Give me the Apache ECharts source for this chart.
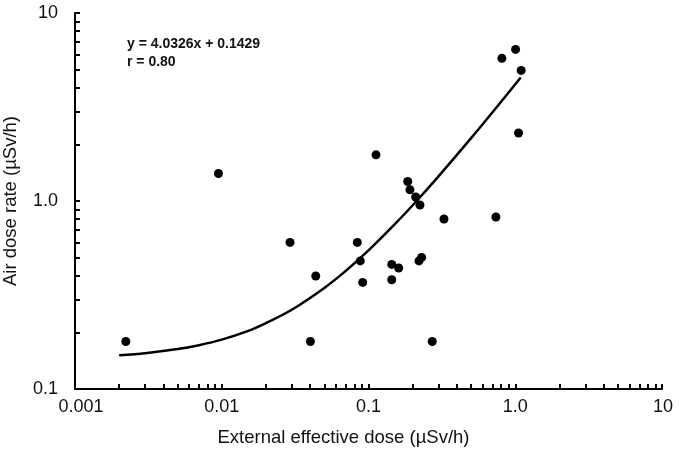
<!DOCTYPE html>
<html>
<head>
<meta charset="utf-8">
<script src="https://cdn.jsdelivr.net/npm/echarts@6/dist/echarts.min.js"></script>
<style>html,body{margin:0;padding:0;background:#fff}#c{width:679px;height:454px}</style>
</head>
<body>
<div id="c"></div>
<script>
// Measured points: external effective dose (x) vs air dose rate (y), µSv/h
const doseX = [0.00222, 0.0095, 0.0292, 0.0437, 0.0402, 0.0839, 0.0879, 0.0913, 0.1125, 0.144, 0.144, 0.1606, 0.185, 0.1916, 0.2096, 0.2242, 0.2207, 0.2301, 0.2718, 0.3268, 0.738, 0.811, 1.005, 1.053, 1.097];
const doseY = [0.179, 1.40, 0.602, 0.399, 0.179, 0.602, 0.480, 0.369, 1.76, 0.460, 0.381, 0.440, 1.27, 1.148, 1.05, 0.952, 0.480, 0.501, 0.179, 0.802, 0.822, 5.74, 6.40, 2.30, 4.95];
// Regression curve
const fitX = [0.002, 0.003, 0.005, 0.007, 0.01, 0.015, 0.02, 0.03, 0.05, 0.07, 0.1, 0.15, 0.2, 0.3, 0.5, 0.7, 1.09];
const fitY = [0.151, 0.155, 0.163, 0.171, 0.183, 0.203, 0.224, 0.264, 0.345, 0.425, 0.546, 0.748, 0.949, 1.353, 2.159, 2.966, 4.538];
const xTickLabels = ['0.001', '0.01', '0.1', '1.0', '10'];
const yTickLabels = ['0.1', '1.0', '10'];
const eqText = 'y = 4.0326x + 0.1429';
const rText = 'r = 0.80';

function logTicks(a, b) {
  const out = [];
  for (let e = a; e < b; e++) {
    for (let m = 1; m < 10; m++) out.push(m * Math.pow(10, e));
  }
  out.push(Math.pow(10, b));
  return out;
}

const chart = echarts.init(document.getElementById('c'), null, {renderer: 'canvas'});
const font = 'Liberation Sans, Arial, sans-serif';
chart.setOption({
  animation: false,
  backgroundColor: '#fff',
  title: {
    text: eqText + '\n' + rText,
    left: 127, top: 35, padding: 0,
    textStyle: {fontFamily: font, fontSize: 14, fontWeight: 'bold', color: '#111', lineHeight: 18}
  },
  grid: {left: 75, right: 17, top: 13, bottom: 65, containLabel: false, outerBoundsMode: 'none'},
  xAxis: {
    type: 'log', logBase: 10, min: 0.001, max: 10,
    name: 'External effective dose (µSv/h)',
    nameLocation: 'middle', nameGap: 39,
    nameTextStyle: {fontFamily: font, fontSize: 18.5, color: '#111', padding: [0, 50, 0, 0]},
    axisLine: {show: true, lineStyle: {color: '#000', width: 2}},
    axisTick: {show: true, inside: true, length: 5, lineStyle: {color: '#000', width: 2}, customValues: logTicks(-3, 1)},
    axisLabel: {
      fontFamily: font, fontSize: 18, color: '#111', margin: 9,
      customValues: [0.001, 0.01, 0.1, 1, 10],
      formatter: function (v) {
        const i = Math.round(Math.log10(v)) + 3;
        const t = xTickLabels[i];
        if (i === 0) return '{s|' + t + '}';
        if (i === 4) return '{e|' + t + '}';
        return t;
      },
      rich: {
        s: {fontFamily: font, fontSize: 18, color: '#111', padding: [0, 0, 0, 12]},
        e: {fontFamily: font, fontSize: 18, color: '#111', padding: [0, 0, 6, 2]}
      }
    },
    splitLine: {show: false},
    minorTick: {show: false}
  },
  yAxis: {
    type: 'log', logBase: 10, min: 0.1, max: 10,
    name: 'Air dose rate (µSv/h)',
    nameLocation: 'middle', nameGap: 55,
    nameTextStyle: {fontFamily: font, fontSize: 18.5, color: '#111'},
    axisLine: {show: true, lineStyle: {color: '#000', width: 2}},
    axisTick: {show: true, inside: true, length: 5, lineStyle: {color: '#000', width: 2}, customValues: logTicks(-1, 1)},
    axisLabel: {
      fontFamily: font, fontSize: 18, color: '#111', margin: 17,
      customValues: [0.1, 1, 10],
      formatter: function (v) {
        return yTickLabels[Math.round(Math.log10(v)) + 1];
      }
    },
    splitLine: {show: false}
  },
  series: [
    {
      type: 'line',
      data: fitX.map((x, i) => [x, fitY[i]]),
      showSymbol: false, smooth: 0.3,
      lineStyle: {color: '#000', width: 2.5},
      z: 2
    },
    {
      type: 'scatter',
      data: doseX.map((x, i) => [x, doseY[i]]),
      symbol: 'circle', symbolSize: 9,
      itemStyle: {color: '#000', opacity: 1},
      z: 3
    }
  ]
});
</script>
</body>
</html>
